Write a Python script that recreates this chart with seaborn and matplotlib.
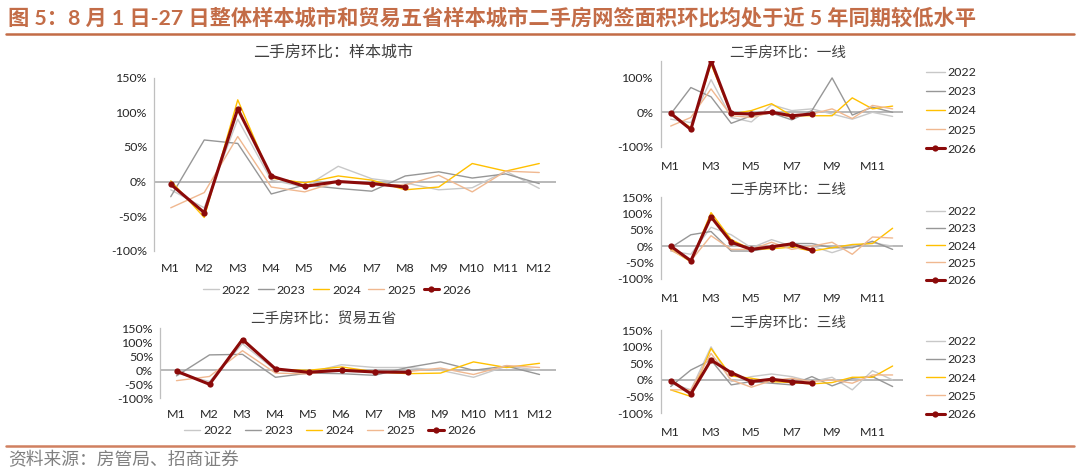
import pandas as pd
import matplotlib
matplotlib.use("Agg")
import matplotlib.pyplot as plt
import seaborn as sns

months = ['M1', 'M2', 'M3', 'M4', 'M5', 'M6', 'M7', 'M8', 'M9', 'M10', 'M11', 'M12']
years = ['2022', '2023', '2024', '2025', '2026']

# 二手房环比 (%) by panel
sample_city = {
    '2022': [-12, -38, 90, 2, -8, 22, 4, -2, -12, -9, 15, -10],
    '2023': [-22, 60, 55, -18, -5, -10, -14, 8, 14, 5, 11, -3],
    '2024': [1, -52, 118, 5, -2, 8, 2, -12, -8, 26, 15, 26],
    '2025': [-38, -16, 65, -8, -15, 0, -4, -5, 9, -15, 15, 13],
    '2026': [-4, -45, 105, 8, -7, 0, -3, -8],
}
trade_five = {
    '2022': [-10, -40, 95, 0, -8, 20, 10, 10, 0, -25, 15, 0],
    '2023': [-20, 55, 57, -25, -10, -12, -18, 10, 30, 0, 15, -15],
    '2024': [-5, -50, 113, 3, 0, 12, -5, -12, -10, 30, 10, 25],
    '2025': [-37, -22, 70, -10, -13, 3, -6, -5, 8, -15, 17, 10],
    '2026': [-3, -50, 110, 5, -7, 0, -6, -7],
}
tier1 = {
    '2022': [-20, -30, 95, -15, -28, 22, 5, 10, -5, -20, 0, -12],
    '2023': [-5, 72, 45, -32, -10, -2, -22, 5, 100, -8, 15, 0],
    '2024': [-5, -45, 140, -5, 5, 25, -10, -10, -10, 42, 10, 18],
    '2025': [-40, -15, 68, -10, -15, 0, -15, -5, 10, -18, 20, 10],
    '2026': [-3, -50, 150, -3, -5, 0, -10, -5],
}
tier2 = {
    '2022': [-15, -25, 58, 35, -5, 20, 0, 0, -20, 0, 10, 0],
    '2023': [-5, 35, 45, -15, -15, -5, 8, 8, -5, -5, 15, -10],
    '2024': [-10, -48, 103, 20, -10, -8, -3, -15, -5, 5, 8, 55],
    '2025': [-12, -45, 32, -10, -10, 12, -10, 0, 12, -25, 28, 25],
    '2026': [0, -45, 90, 12, -10, -2, 7, -13],
}
tier3 = {
    '2022': [-10, -30, 100, -5, 10, 18, 10, -5, 8, -30, 28, 0],
    '2023': [-20, 30, 60, -15, -5, -10, -15, 10, -18, 5, 10, -20],
    '2024': [-30, -50, 95, 12, 5, -5, -8, -12, -8, 8, 8, 42],
    '2025': [-30, -30, 80, 0, -22, -2, 5, -5, 0, -10, 15, 15],
    '2026': [-2, -42, 60, 22, -5, 2, -5, -10],
}

colors = {'2022': '#C8C8C8', '2023': '#979797', '2024': '#FFC000',
          '2025': '#F0B890', '2026': '#8B0A0A'}

sns.set_style('white')
plt.rcParams['font.family'] = ['Lato', 'Noto Sans CJK SC', 'DejaVu Sans']

fig = plt.figure(figsize=(10.8, 4.72), dpi=100)
W, H = 1080, 472
TICK_FS = 8.9
LEG_FS = 8.9


def add_box(x0, x1, ytop, ybot):
    return fig.add_axes([x0 / W, 1 - ybot / H, (x1 - x0) / W, (ybot - ytop) / H])


def draw_panel(ax, data, yticks, every_other=False):
    for yr in years:
        vals = data[yr]
        df = pd.DataFrame({'month': months[:len(vals)], 'value': vals})
        if yr == '2026':
            sns.lineplot(data=df, x='month', y='value', ax=ax, sort=False, legend=False,
                         color=colors[yr], lw=2.2, marker='o', markersize=4.5,
                         markeredgewidth=0, label=yr)
        else:
            sns.lineplot(data=df, x='month', y='value', ax=ax, sort=False, legend=False,
                         color=colors[yr], lw=1.0, label=yr)
    ax.axhline(0, color='#A6A6A6', lw=1.1, zorder=0)
    ax.set_xlim(-0.5, 11.5)
    ax.set_ylim(-100, 150)
    ax.set_yticks(yticks)
    ax.set_yticklabels([f'{v}%' for v in yticks])
    ax.set_xticks(range(len(months)))
    if every_other:
        ax.set_xticklabels([m if i % 2 == 0 else '' for i, m in enumerate(months)])
    else:
        ax.set_xticklabels(months)
    ax.set_xlabel('')
    ax.set_ylabel('')
    for s in ['top', 'right', 'bottom']:
        ax.spines[s].set_visible(False)
    ax.spines['left'].set_color('#BFBFBF')
    ax.spines['left'].set_linewidth(0.9)
    ax.tick_params(axis='x', length=0, pad=9, labelsize=TICK_FS, colors='#262626')
    ax.tick_params(axis='y', length=3, width=0.8, color='#BFBFBF', pad=2,
                   labelsize=TICK_FS, labelcolor='#262626')
    ax.grid(False)


# main title and rules
fig.text(8 / W, 1 - 18 / H,
         '图 5：8 月 1 日-27 日整体样本城市和贸易五省样本城市二手房网签面积环比均处于近 5 年同期较低水平',
         fontsize=15.3, fontweight='bold', color='#C36C47', va='center', ha='left')
fig.add_artist(plt.Line2D([6 / W, 1074 / W], [1 - 33.5 / H, 1 - 33.5 / H], color='#C36C47', lw=1.8))
fig.add_artist(plt.Line2D([6 / W, 1074 / W], [1 - 446 / H, 1 - 446 / H], color='#D08060', lw=1.8))
fig.text(8 / W, 1 - 460 / H, '资料来源：房管局、招商证券', fontsize=12.8,
         color='#808080', va='center', ha='left')

# sample cities
ax1 = add_box(154, 556, 77.7, 250.7)
draw_panel(ax1, sample_city, [-100, -50, 0, 50, 100, 150])
fig.text(333 / W, 1 - 52 / H, '二手房环比：样本城市', fontsize=11.5, color='#404040',
         ha='center', va='center')
h, l = ax1.get_legend_handles_labels()
fig.legend(h, l, loc='center', bbox_to_anchor=(337 / W, 1 - 290 / H), ncol=5,
           frameon=False, fontsize=LEG_FS, handlelength=1.25, handletextpad=0.25,
           columnspacing=0.62, borderpad=0, borderaxespad=0)

# trade five provinces
ax2 = add_box(160, 556, 328.3, 398.3)
draw_panel(ax2, trade_five, [-100, -50, 0, 50, 100, 150])
ax2.tick_params(axis='x', pad=8)
fig.text(323 / W, 1 - 319 / H, '二手房环比：贸易五省', fontsize=10.5, color='#404040',
         ha='center', va='center')
h, l = ax2.get_legend_handles_labels()
fig.legend(h, l, loc='center', bbox_to_anchor=(330 / W, 1 - 431 / H), ncol=5,
           frameon=False, fontsize=LEG_FS, handlelength=1.25, handletextpad=0.25,
           columnspacing=1.1, borderpad=0, borderaxespad=0)

# tiers on the right
right_panels = [
    (tier1, '二手房环比：一线', 60.7, 146.7, [-100, 0, 100], 53, 111, 0.65),
    (tier2, '二手房环比：二线', 197.3, 278.7, [-100, -50, 0, 50, 100, 150], 190, 246, 0.5),
    (tier3, '二手房环比：三线', 330.3, 413.0, [-100, -50, 0, 50, 100, 150], 323, 378, 0.58),
]
for data, title, ytop, ybot, yt, ty, ly, lsp in right_panels:
    ax = add_box(660.6, 902.7, ytop, ybot)
    draw_panel(ax, data, yt, every_other=True)
    ax.tick_params(axis='x', pad=10)
    fig.text(788 / W, 1 - ty / H, title, fontsize=10.5, color='#404040',
             ha='center', va='center')
    h, l = ax.get_legend_handles_labels()
    ax.legend(h, l, loc='center left', bbox_to_anchor=(926 / W, 1 - ly / H),
              bbox_transform=fig.transFigure, frameon=False, fontsize=LEG_FS,
              handlelength=1.5, handletextpad=0.25, labelspacing=lsp,
              borderpad=0, borderaxespad=0)

fig.savefig('out.png', dpi=100)
